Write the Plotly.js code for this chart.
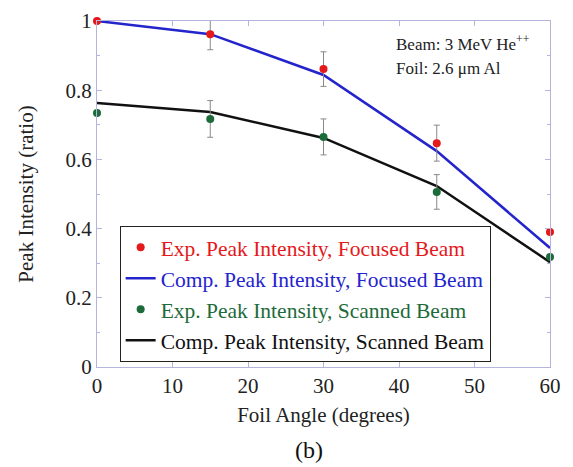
<!DOCTYPE html>
<html><head><meta charset="utf-8">
<script src="https://cdn.plot.ly/plotly-3.0.1.min.js"></script>
<style>body{margin:0;background:#fff}#c{width:573px;height:467px}</style>
</head><body><div id="c"></div>
<script>
const angles = [0, 15, 30, 45, 60];
const expFocused = [1.0, 0.962, 0.861, 0.647, 0.390];
const expFocusedErr = [0, 0.045, 0.05, 0.052, 0];
const compFocused = [1.0, 0.962, 0.844, 0.624, 0.344];
const expScanned = [0.734, 0.717, 0.665, 0.506, 0.318];
const expScannedErr = [0, 0.053, 0.052, 0.05, 0];
const compScanned = [0.763, 0.737, 0.662, 0.523, 0.303];
const names = ["Exp. Peak Intensity, Focused Beam", "Comp. Peak Intensity, Focused Beam",
  "Exp. Peak Intensity, Scanned Beam", "Comp. Peak Intensity, Scanned Beam"];
const colors = ["#e3191c", "#2424cc", "#1d6b3a", "#111111"];
const font = "Liberation Serif, Times New Roman, serif";
const lbl = (i) => '<span style="color:' + colors[i] + '">' + names[i] + '</span>';
const traces = [
  {x: angles, y: compFocused, mode: 'lines', name: lbl(1), line: {color: colors[1], width: 2.5}, legendrank: 2, cliponaxis: false},
  {x: angles, y: compScanned, mode: 'lines', name: lbl(3), line: {color: colors[3], width: 2.5}, legendrank: 4, cliponaxis: false},
  {x: angles, y: expFocused, mode: 'markers', name: lbl(0), marker: {color: colors[0], size: 8}, cliponaxis: false,
   error_y: {type: 'data', array: expFocusedErr, color: '#888', thickness: 1, width: 3}, legendrank: 1},
  {x: angles, y: expScanned, mode: 'markers', name: lbl(2), marker: {color: colors[2], size: 8}, cliponaxis: false,
   error_y: {type: 'data', array: expScannedErr, color: '#888', thickness: 1, width: 3}, legendrank: 3}
];
const axisCommon = {showline: true, linecolor: '#b4b4dc', linewidth: 1, mirror: 'ticks', ticks: 'inside',
  ticklen: 5, tickcolor: '#b4b4dc', showgrid: false, zeroline: false, tickfont: {family: font, size: 21, color: '#222'}};
const layout = {
  width: 573, height: 467, margin: {l: 97, r: 23, t: 21, b: 100},
  paper_bgcolor: '#fff', plot_bgcolor: '#fff', font: {family: font, color: '#222'},
  showlegend: true,
  xaxis: Object.assign({}, axisCommon, {range: [0, 60], dtick: 10, tick0: 0,
    title: {text: 'Foil Angle (degrees)', font: {family: font, size: 21}, standoff: 10}}),
  yaxis: Object.assign({}, axisCommon, {range: [0, 1], dtick: 0.2, tick0: 0,
    minor: {dtick: 0.1, ticks: 'inside', ticklen: 3, tickcolor: '#b4b4dc'},
    title: {text: 'Peak Intensity (ratio)', font: {family: font, size: 21}, standoff: 26}}),
  legend: {x: 0.05, y: 0.015, xanchor: 'left', yanchor: 'bottom', bgcolor: '#fff', bordercolor: '#222', borderwidth: 1,
    font: {family: font, size: 21.5}, traceorder: 'normal', itemwidth: 30},
  annotations: [
    {xref: 'paper', yref: 'paper', x: 0.655, y: 0.935, xanchor: 'left', yanchor: 'middle', showarrow: false,
     text: 'Beam: 3 MeV He<sup>++</sup>', font: {family: font, size: 17, color: '#222'}},
    {xref: 'paper', yref: 'paper', x: 0.655, y: 0.862, xanchor: 'left', yanchor: 'middle', showarrow: false,
     text: 'Foil: 2.6 μm Al', font: {family: font, size: 17, color: '#222'}},
    {xref: 'paper', yref: 'paper', x: 0.468, y: -0.24, xanchor: 'center', yanchor: 'middle', showarrow: false,
     text: '(b)', font: {family: font, size: 24, color: '#111'}}
  ]
};
Plotly.newPlot('c', traces, layout, {displayModeBar: false, staticPlot: true});
</script></body></html>
